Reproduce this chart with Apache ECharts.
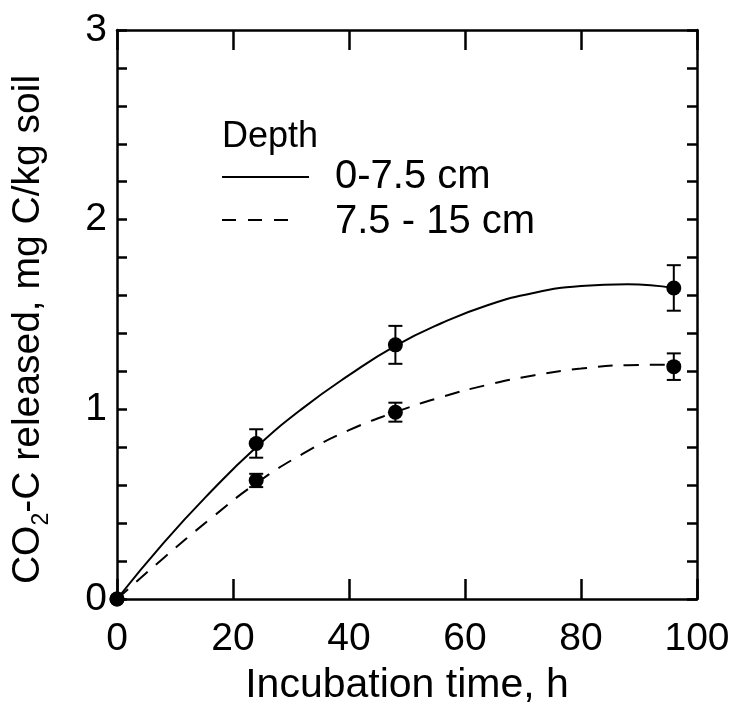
<!DOCTYPE html>
<html>
<head>
<meta charset="utf-8">
<script src="https://cdn.jsdelivr.net/npm/echarts@6/dist/echarts.min.js"></script>
<style>html,body{margin:0;padding:0;background:#fff}#c{width:733px;height:711px}</style>
</head>
<body>
<div id="c"></div>
<script>
// Observed means and errors
var times = [0, 24, 48, 96];
var shallowMean = [0, 0.82, 1.34, 1.64];
var shallowErr = [0, 0.075, 0.10, 0.12];
var deepMean = [0, 0.625, 0.985, 1.225];
var deepErr = [0, 0.035, 0.05, 0.07];
// Fitted curves
var curveX = [0, 8, 16, 24, 32, 40, 48, 56, 64, 72, 80, 88, 96];
var shallowCurve = [0, 0.295, 0.56, 0.80, 1.005, 1.18, 1.335, 1.455, 1.55, 1.615, 1.65, 1.66, 1.64];
var deepCurve = [0, 0.215, 0.42, 0.61, 0.765, 0.89, 0.985, 1.065, 1.13, 1.18, 1.215, 1.233, 1.235];
var xTicks = [0, 20, 40, 60, 80, 100];
var yTicks = [0, 1, 2, 3];
var legendTitle = 'Depth';
var seriesNames = ['0-7.5 cm', '7.5 - 15 cm'];

var FONT = '"Liberation Sans", Arial, sans-serif';
function pairs(xs, ys) { return xs.map(function (x, i) { return [x, ys[i]]; }); }
function errData(xs, m, e) { return xs.map(function (x, i) { return [x, m[i] - e[i], m[i] + e[i]]; }); }

function errorRender(params, api) {
  var x = api.value(0), lo = api.value(1), hi = api.value(2);
  if (hi - lo <= 0) return null;
  var p1 = api.coord([x, hi]), p2 = api.coord([x, lo]);
  var w = 7;
  var st = { stroke: '#000', lineWidth: 2 };
  return { type: 'group', children: [
    { type: 'line', shape: { x1: p1[0], y1: p1[1], x2: p2[0], y2: p2[1] }, style: st },
    { type: 'line', shape: { x1: p1[0] - w, y1: p1[1], x2: p1[0] + w, y2: p1[1] }, style: st },
    { type: 'line', shape: { x1: p2[0] - w, y1: p2[1], x2: p2[0] + w, y2: p2[1] }, style: st }
  ]};
}

var chart = echarts.init(document.getElementById('c'), null, { renderer: 'canvas' });
var axisLine = { show: true, onZero: false, lineStyle: { color: '#000', width: 2.5 } };
function yFmt(v) { return yTicks.some(function (t) { return Math.abs(t - v) < 1e-6; }) ? String(Math.round(v)) : ''; }

var option = {
  backgroundColor: '#fff',
  animation: false,
  grid: { left: 117, right: 36, top: 30, bottom: 111 },
  xAxis: [
    { type: 'value', min: xTicks[0], max: xTicks[xTicks.length - 1], interval: 20, position: 'bottom',
      axisLine: axisLine, splitLine: { show: false },
      axisTick: { inside: true, length: 20, lineStyle: { color: '#000', width: 2.5 } },
      axisLabel: { color: '#000', fontSize: 39, fontFamily: FONT, margin: 21 },
      name: 'Incubation time, h', nameLocation: 'middle', nameGap: 66,
      nameTextStyle: { color: '#000', fontSize: 41, fontFamily: FONT } },
    { type: 'value', min: xTicks[0], max: xTicks[xTicks.length - 1], interval: 20, position: 'top',
      axisLine: axisLine, splitLine: { show: false },
      axisTick: { inside: true, length: 20, lineStyle: { color: '#000', width: 2.5 } },
      axisLabel: { show: false } }
  ],
  yAxis: [
    { type: 'value', min: 0, max: 3, interval: 0.2, position: 'left',
      axisLine: axisLine, splitLine: { show: false },
      axisTick: { inside: true, length: 10, lineStyle: { color: '#000', width: 2.5 } },
      axisLabel: { color: '#000', fontSize: 39, fontFamily: FONT, margin: 10, formatter: yFmt, showMinLabel: true, showMaxLabel: true },
      name: '{a|CO}{s|2}{a|-C released, mg C/kg soil}', nameLocation: 'middle', nameGap: 64, nameRotate: 90,
      nameTextStyle: { color: '#000', fontFamily: FONT, padding: [0, 30, 0, 0],
        rich: {
          a: { fontSize: 39, fontFamily: FONT, color: '#000', lineHeight: 50, verticalAlign: 'middle' },
          s: { fontSize: 23, fontFamily: FONT, color: '#000', lineHeight: 8, verticalAlign: 'bottom' }
        } } },
    { type: 'value', min: 0, max: 3, interval: 0.2, position: 'right',
      axisLine: axisLine, splitLine: { show: false },
      axisTick: { inside: true, length: 10, lineStyle: { color: '#000', width: 2.5 } },
      axisLabel: { show: false } }
  ],
  series: [
    { name: seriesNames[0], type: 'line', smooth: true, showSymbol: false, symbol: 'none',
      data: pairs(curveX, shallowCurve), lineStyle: { color: '#000', width: 2, type: 'solid' }, z: 2 },
    { name: seriesNames[1], type: 'line', smooth: true, showSymbol: false, symbol: 'none',
      data: pairs(curveX, deepCurve), lineStyle: { color: '#000', width: 2, type: [15, 11] }, z: 2 },
    { type: 'custom', renderItem: errorRender, data: errData(times, shallowMean, shallowErr), encode: { x: 0, y: [1, 2] }, clip: false, z: 3 },
    { type: 'custom', renderItem: errorRender, data: errData(times, deepMean, deepErr), encode: { x: 0, y: [1, 2] }, clip: false, z: 3 },
    { type: 'scatter', symbol: 'circle', symbolSize: 15, data: pairs(times, shallowMean), itemStyle: { color: '#000', opacity: 1 }, clip: false, z: 4 },
    { type: 'scatter', symbol: 'circle', symbolSize: 15, data: pairs(times, deepMean), itemStyle: { color: '#000', opacity: 1 }, clip: false, z: 4 }
  ],
  graphic: [
    { type: 'text', x: 222, y: 137, style: { text: legendTitle, font: '36px ' + FONT, fill: '#000', verticalAlign: 'middle' } },
    { type: 'line', shape: { x1: 222, y1: 177, x2: 309, y2: 177 }, style: { stroke: '#000', lineWidth: 2 } },
    { type: 'line', shape: { x1: 222, y1: 220, x2: 300, y2: 220 }, style: { stroke: '#000', lineWidth: 2, lineDash: [14, 12] } },
    { type: 'text', x: 335, y: 177, style: { text: seriesNames[0], font: '40px ' + FONT, fill: '#000', verticalAlign: 'middle' } },
    { type: 'text', x: 335, y: 222, style: { text: seriesNames[1], font: '40px ' + FONT, fill: '#000', verticalAlign: 'middle' } }
  ]
};
chart.setOption(option);
</script>
</body>
</html>
